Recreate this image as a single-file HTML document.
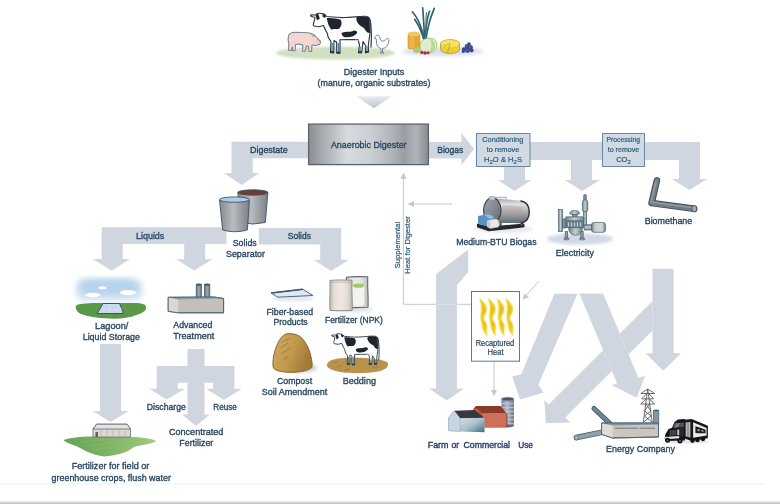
<!DOCTYPE html>
<html><head><meta charset="utf-8"><title>Anaerobic Digester Flow</title>
<style>
html,body{margin:0;padding:0;background:#fff;}
body{width:780px;height:504px;overflow:hidden;position:relative;font-family:"Liberation Sans",sans-serif;}
svg{position:absolute;left:0;top:0;display:block;}
text{font-family:"Liberation Sans",sans-serif;fill:#27455f;font-size:9.9px;text-anchor:start;stroke:#27455f;stroke-width:0.35px;}
.s{font-size:7.6px;stroke-width:0.2px;fill:#2a5a7c;stroke:#2a5a7c;}
.r{font-size:8.2px;stroke-width:0.2px;}
</style></head><body>
<svg width="780" height="504" viewBox="0 0 780 504">
<defs>
<linearGradient id="gDig" x1="0" y1="0" x2="1" y2="0">
<stop offset="0" stop-color="#8a8e94"/><stop offset="0.1" stop-color="#a3a7ac"/><stop offset="0.32" stop-color="#d7dadd"/><stop offset="0.5" stop-color="#cdd0d4"/><stop offset="0.66" stop-color="#b7bbbf"/><stop offset="0.8" stop-color="#9a9ea4"/><stop offset="0.9" stop-color="#b0b4b9"/><stop offset="1" stop-color="#878b91"/>
</linearGradient>
<linearGradient id="gTri" x1="0" y1="0" x2="0" y2="1">
<stop offset="0" stop-color="#e9edf3"/><stop offset="1" stop-color="#b9c2d1"/>
</linearGradient>
<!-- XDEFS -->
<filter id="b1" x="-20%" y="-50%" width="140%" height="200%"><feGaussianBlur stdDeviation="1"/></filter>
<filter id="b15" x="-20%" y="-60%" width="140%" height="220%"><feGaussianBlur stdDeviation="1.6"/></filter>
<filter id="b3" x="-20%" y="-30%" width="140%" height="160%"><feGaussianBlur stdDeviation="3"/></filter>
<filter id="b05" x="-10%" y="-10%" width="120%" height="120%"><feGaussianBlur stdDeviation="0.5"/></filter>
<linearGradient id="gBk" x1="0" y1="0" x2="1" y2="0"><stop offset="0" stop-color="#858a91"/><stop offset="0.45" stop-color="#b9bcc0"/><stop offset="1" stop-color="#7b8087"/></linearGradient>
<linearGradient id="gSky" x1="0" y1="0" x2="0" y2="1"><stop offset="0" stop-color="#b7d4ec"/><stop offset="0.6" stop-color="#cfe1f1"/><stop offset="1" stop-color="#eef4fa"/></linearGradient>
<linearGradient id="gCh" x1="0" y1="0" x2="1" y2="0"><stop offset="0" stop-color="#4d6775"/><stop offset="0.5" stop-color="#9fadb5"/><stop offset="1" stop-color="#4d6775"/></linearGradient>
<linearGradient id="gBag" x1="0" y1="0" x2="1" y2="0"><stop offset="0" stop-color="#b9bcb8"/><stop offset="0.22" stop-color="#eadfd7"/><stop offset="0.5" stop-color="#f3e8e1"/><stop offset="0.8" stop-color="#e2dad3"/><stop offset="1" stop-color="#b4b7b3"/></linearGradient>
<linearGradient id="gBag2" x1="0" y1="0" x2="1" y2="0"><stop offset="0" stop-color="#c9ccc9"/><stop offset="0.3" stop-color="#eceae5"/><stop offset="0.7" stop-color="#e6e4df"/><stop offset="1" stop-color="#b9bcba"/></linearGradient>
<linearGradient id="gCmp" x1="0" y1="0" x2="1" y2="0.4"><stop offset="0" stop-color="#d3ac62"/><stop offset="0.6" stop-color="#c1974b"/><stop offset="1" stop-color="#a27b38"/></linearGradient>
<linearGradient id="gFld" x1="0" y1="0" x2="1" y2="0"><stop offset="0" stop-color="#66a153"/><stop offset="0.6" stop-color="#86b968"/><stop offset="1" stop-color="#a3cc82"/></linearGradient>
<linearGradient id="gBl" x1="0" y1="0" x2="0" y2="1"><stop offset="0" stop-color="#9fa4aa"/><stop offset="0.25" stop-color="#dfe1e4"/><stop offset="0.55" stop-color="#a9adb3"/><stop offset="1" stop-color="#63686f"/></linearGradient>
<linearGradient id="gBf" x1="0" y1="0" x2="1" y2="1"><stop offset="0" stop-color="#a4a8ad"/><stop offset="0.5" stop-color="#858990"/><stop offset="1" stop-color="#63676d"/></linearGradient>
<linearGradient id="gEn" x1="0" y1="0" x2="1" y2="0"><stop offset="0" stop-color="#6f848c"/><stop offset="0.5" stop-color="#c3ced2"/><stop offset="1" stop-color="#6f848c"/></linearGradient>
<linearGradient id="gEnV" x1="0" y1="0" x2="0" y2="1"><stop offset="0" stop-color="#6f848c"/><stop offset="0.45" stop-color="#c3ced2"/><stop offset="1" stop-color="#6f848c"/></linearGradient>
<linearGradient id="gGen" x1="0" y1="0" x2="1" y2="0"><stop offset="0" stop-color="#6f8088"/><stop offset="0.25" stop-color="#c9cdcf"/><stop offset="0.75" stop-color="#d5d8da"/><stop offset="1" stop-color="#6f8088"/></linearGradient>
<linearGradient id="gSilo" x1="0" y1="0" x2="1" y2="0"><stop offset="0" stop-color="#6d7e8d"/><stop offset="0.45" stop-color="#b4c0cb"/><stop offset="1" stop-color="#5f7080"/></linearGradient>
<linearGradient id="gBarn" x1="0" y1="0" x2="1" y2="1"><stop offset="0" stop-color="#d3e0e8"/><stop offset="0.5" stop-color="#a9c0cc"/><stop offset="1" stop-color="#3f6c7f"/></linearGradient>
<!-- /XDEFS -->
</defs>

<!-- bottom lines -->
<rect x="0" y="483.5" width="766" height="1" fill="#eff0f2"/>
<rect x="0" y="501" width="780" height="1" fill="#ededed"/><rect x="0" y="502" width="780" height="1" fill="#d6d6d6"/><rect x="0" y="503" width="780" height="1" fill="#c4c4c4"/>

<!-- ARROWS -->
<g id="arrows" fill="#cfd6e0">
<!-- digestate -->
<path d="M231.5,141.8H308V158.3H252.8V173H259.5L241.8,185L224,173H231.5Z"/>
<!-- biogas -->
<path d="M429,142H461.5V133L474,149L461.5,165V158.5H429Z"/>
<!-- right bar -->
<path d="M529,142H700V179H707L689.5,190L672,179H679V160H592V180H600L582,191L565,180H571V160H529Z"/>
<!-- medium btu -->
<path d="M504,166H525V180H531.5L514.5,191L498,180H504Z"/>
<!-- liquids -->
<path d="M101.7,227.3H226.5V244H205.2V259.3H212.3L194.3,270.5L176.2,259.3H184.2V244H122.7V259H130L111.7,270.7L93,259H101.7Z"/>
<!-- solids -->
<path d="M258.8,227.9H341.2V259.7H348.8L331.1,270.9L313.5,259.7H320.2V244.6H258.8Z"/>
<!-- lagoon down -->
<path d="M100,344H121V411H128.5L110.7,422L92.7,411H100Z"/>
<!-- advanced treatment cross -->
<path d="M187.5,349H204.5V366H234.3V388.7H241.7L224,400L206,388.7H213V382.7H204.5V414.6H209.8L196,426L182,414.6H187.5V382.7H177.7V388.7H185L166.7,399.5L149.3,388.7H156.7V366H187.5Z"/>
<!-- arrow 1: BTU to farm -->
<path d="M468.2,249.5V272L456.9,285.2V388.4H464L446.9,400.4L429,388.4H436.1V273.9Z"/>
<!-- arrow C: biomethane down + branch -->
<path d="M652.5,268.7H673.6V353.2H681.1L663.2,370.7L645.7,353.2H652.5Z"/>
<path d="M652.5,301.1L548.6,404.6L544.4,400.3L545.8,423.2L570.1,422.5L565.3,417.6L652.5,330.5Z"/>
<!-- arrow A -->
<path d="M554.4,293.7H577.5L538.2,385L543.75,392.6L520.1,399.6L512.2,376.4L521.3,374.3Z"/>
<!-- arrow B -->
<path d="M579.5,293.7H603L638.3,378L645,376L636.5,397.5L612.2,385.2L617.3,383.5Z" stroke="#dde2ea" stroke-width="0.7"/>
</g>
<!-- small top arrow -->
<path d="M356,96.3H391.7L374,108.3Z" fill="url(#gTri)"/>

<!-- THIN ARROWS -->
<g id="thin" stroke="#c3c8cf" stroke-width="1" fill="none">
<path d="M403.4,177V304.3H471.5"/><path d="M436.5,304.3H456.5" stroke="#e4e8ee"/>
<path d="M452,204H412"/>
<path d="M494,361.5V392"/>
<path d="M539,281L525,297"/>
</g>
<g fill="#c3c8cf">
<path d="M403.4,172.5L400.4,179H406.4Z"/>
<path d="M407.5,204L414,201V207Z"/>
<path d="M494,396L491,390H497Z"/>
<path d="M522.5,299.5L524.5,293.5L529,297.5Z"/>
</g>

<!-- BOXES -->
<rect x="308.6" y="124.1" width="119.8" height="40.5" fill="url(#gDig)" stroke="#5d636b" stroke-width="1.3"/>
<rect x="476.5" y="133.5" width="53.5" height="33" fill="#d1d9e3" stroke="#6a88a0" stroke-width="1"/>
<rect x="602.5" y="133.5" width="42" height="33" fill="#d1d9e3" stroke="#6a88a0" stroke-width="1"/>
<rect x="471.5" y="291.5" width="48" height="69.7" fill="#fff" stroke="#5f7890" stroke-width="1"/>

<!-- ICONS -->
<g id="icons">
<!-- animals -->
<ellipse cx="335.5" cy="53" rx="59.5" ry="6.6" fill="#d0e0c0" filter="url(#b1)"/>
<g id="cow">
<path d="M326.5,16.5C332,17 338,17.8 345,17.5C353,17.2 360,16 366,16.3C369,17 370.5,19 370.3,22L370,33C369.5,38 368.5,42 368.3,46L368.5,52L365.5,52.8L365.8,46L363,41.5L362.5,46L361.5,53L358.5,52.8L359.5,45L358,39.5C352,39.8 346,39.6 340,39.8L340,53.2L336.8,53.2L336.6,42L334,40.5L333.7,53L330.5,52.6L331,41.5C329,39 327.5,36.5 327.5,34C326,31 324.5,28 323.5,25.5L319,26.8L314,26C313,25 313.2,23.5 314,22L315,17.5L310.5,16L311,14.8L315.5,15C316.5,13.5 318,13 320,13.3L323.5,13.8L325.5,15Z" fill="#fff" stroke="#2c3947" stroke-width="1.15" stroke-linejoin="round"/>
<path d="M326.8,18C331,17.6 337,18.5 340.5,19.5C342.5,23 341.5,26.5 339,28.8C336,29.8 333.5,28.3 331.5,29.8C329,27 327.5,23 326.8,18Z" fill="#20242b"/>
<path d="M356.5,17C361,16.3 366,16 369.6,18L370,32.5C368,34 366,31.5 364,28C361,26.5 358,24.5 356.5,20.5Z" fill="#20242b"/>
<path d="M341.5,33C345,31 349,32.5 353,31C355,30 356.8,31 357.3,32.8C355,36.3 350,37.8 345,37.2C343,36.7 341.5,35.2 341.5,33Z" fill="#20242b"/>
<path d="M315.5,15L318.2,13.8L319.8,18.5L317,20.5Z" fill="#20242b"/>
<path d="M322.5,13.8L326,15.8L325,18L322.5,16.5Z" fill="#20242b"/>
<path d="M370.2,20C371.8,28 371.6,38 371,47.5" fill="none" stroke="#33404f" stroke-width="1.2"/>
<path d="M338.4,43V52.6M332.2,43L332,52.3" stroke="#4f7ba3" stroke-width="1.3" fill="none"/>
<path d="M360.2,46.5L360,52.3M367,46.5L367,52" stroke="#4f7ba3" stroke-width="1.2" fill="none"/><path d="M330.5,51.8H333.7M336.8,52.5H340M358.5,52H361.5M365.5,51.8H368.5" stroke="#1f2a36" stroke-width="1.6" fill="none"/>
<path d="M355,39.5C356,41.5 358,41.5 359,40Z" fill="#f0c8c8"/>
</g>
<path d="M288.5,36C289,33.5 292,32.3 296,32.3L308,32.8C311,33 313,34 315,35.5L317.5,38.5L320.5,41.5L320,44L316,45.5L312,45L311.5,51.5L309,51.5L308.5,46.5L306.5,46L305,51.5L302.5,51.3L303,45C300,44 297.5,43.8 295.5,44.5L295,50.8L292.5,50.8L292.3,47L291,50.5L288.5,50.3L288.8,43C288,41 288,38 288.5,36Z" fill="#f4d6d1" stroke="#7b8698" stroke-width="1.1" stroke-linejoin="round"/>
<path d="M311.5,34L313,36.8L315.3,36M316.5,41.5L317.5,42" stroke="#8791a3" stroke-width="0.7" fill="none"/>
<path d="M376,36C377,34.5 379,34.8 379.5,36.5L380.5,40C382,41.5 384,41.5 385.5,40L387.5,38L389,39.5C389,43 387.5,46.5 384.5,48L382.5,48.5L382.5,52.5L384,53L380,53L381.3,52.3L381,48.5C378.5,48 376.8,46 376.5,43L376.3,39L374.5,38.3Z" fill="#fff" stroke="#7b8698" stroke-width="1" stroke-linejoin="round"/>
<!-- vegetables -->
<ellipse cx="443" cy="51.5" rx="40" ry="5" fill="#dde1f1" filter="url(#b15)"/>
<rect x="407.6" y="33.5" width="12.8" height="15.8" rx="2" fill="#e4a436"/>
<rect x="409.5" y="35" width="5" height="13" fill="#eeb84a" opacity="0.8"/>
<ellipse cx="414" cy="33.8" rx="6.3" ry="2.3" fill="#f3c860"/>
<g fill="none" stroke="#2e6470" stroke-width="1.7" stroke-linecap="round">
<path d="M424.5,41C423,30 418,18 412.5,12"/>
<path d="M424.5,41C424.3,28 423.2,15 422.7,7.8"/>
<path d="M425.2,41C425.5,30 427,18 429.5,11.2"/>
<path d="M425.8,41C427,30 431,16 434.3,8.3"/>
<path d="M424,40C421.5,31 418.5,25 414.8,19.5"/>
<path d="M425.5,38C426.5,28 425.5,19 426.5,12.5" stroke="#3f7a80" stroke-width="1.1"/>
</g>
<path d="M421,42C423,38.5 430,37 434.5,39.5C438,42 437.5,48 434,51.5C430,54 423.5,53.5 421,50C419.5,47.5 419.8,44.5 421,42Z" fill="#ddecc9" stroke="#9ac76a" stroke-width="0.9"/>
<path d="M430,39C434,40 436,44 434.5,49C433.5,51 431,52.5 429,52.5C432,49 432.5,43 430,39Z" fill="#b7d98b"/>
<ellipse cx="416.6" cy="50" rx="3.6" ry="3" fill="#a9c97b"/>
<circle cx="421.8" cy="52.4" r="1.7" fill="#b8323a"/><circle cx="425" cy="53" r="1.7" fill="#a82a33"/><circle cx="428" cy="52.8" r="1.5" fill="#b8323a"/>
<path d="M440.6,43.5A9.5,3.8 0 0 1 459.6,43.5V49.5A9.5,4 0 0 1 440.6,49.5Z" fill="#ecd02f" stroke="#a8962a" stroke-width="0.8"/>
<ellipse cx="450.1" cy="43.5" rx="9.2" ry="3.5" fill="#f6e25e"/>
<path d="M444,46L450,43.5L447.5,53" fill="none" stroke="#a8962a" stroke-width="0.6"/>
<g fill="#3b4a8e"><circle cx="464" cy="49.5" r="2.3"/><circle cx="467" cy="46.5" r="2.4"/><circle cx="470.5" cy="47.5" r="2.4"/><circle cx="467.5" cy="50.5" r="2.4"/><circle cx="471.5" cy="50.3" r="2.1"/><circle cx="469" cy="44" r="1.8"/><circle cx="463.3" cy="51.5" r="1.6"/></g>
<g fill="#5a69ad"><circle cx="466.5" cy="46" r="0.9"/><circle cx="470" cy="47" r="0.9"/><circle cx="467" cy="50" r="0.9"/></g>
<!-- buckets -->
<path d="M237.8,192.5L240.5,222.5Q252.9,225.5 265.3,222.5L267.9,192.5Z" fill="url(#gBk)" stroke="#3d5565" stroke-width="0.9"/>
<ellipse cx="252.9" cy="192.5" rx="15" ry="2.7" fill="#6e3b30" stroke="#3d5565" stroke-width="0.9"/>
<path d="M219.5,199.6L222.6,230Q235,233.5 247.4,230L249.4,199.6Z" fill="url(#gBk)" stroke="#3d5565" stroke-width="0.9"/>
<ellipse cx="234.4" cy="199.6" rx="14.9" ry="2.7" fill="#a9d0e2" stroke="#3d5565" stroke-width="0.9"/>
<!-- lagoon -->
<rect x="76" y="279" width="66" height="24" rx="9" fill="url(#gSky)" filter="url(#b3)"/>
<rect x="82" y="281" width="54" height="14" rx="6" fill="#b3d2ea" filter="url(#b3)" opacity="0.9"/>
<ellipse cx="102.3" cy="287.8" rx="4" ry="1.5" fill="#fff" filter="url(#b05)"/>
<ellipse cx="92.8" cy="295" rx="7.5" ry="2.2" fill="#fff" filter="url(#b05)"/>
<ellipse cx="128" cy="292.6" rx="8" ry="2.7" fill="#fff" filter="url(#b05)"/>
<path d="M76,305.5C80,303 90,303.2 100,303L135,303C141,303 146,304 146,307C146.5,311 142,313.5 136,315C130,318 119,319 108,318.6C97,318.2 88,316.5 81,314C76.5,312 75,308 76,305.5Z" fill="#5a994a" filter="url(#b05)"/>
<path d="M103,303.5H119.6L123.5,313.5H97.2Z" fill="#cad8ec" stroke="#2f5868" stroke-width="1"/>
<path d="M110,304L109,313M104,309H122" stroke="#dbe5f3" stroke-width="0.6" fill="none"/>
<!-- advanced treatment -->
<rect x="195.8" y="284.5" width="6.2" height="14" fill="url(#gCh)"/>
<rect x="204" y="284.5" width="6.2" height="14" fill="url(#gCh)"/>
<ellipse cx="198.9" cy="284.6" rx="3.1" ry="1.1" fill="#3d5563"/>
<ellipse cx="207.1" cy="284.6" rx="3.1" ry="1.1" fill="#3d5563"/>
<path d="M168.2,297.3L213.8,297L223.6,298.5V312.8H178.2L168.2,311.3Z" fill="#c4bfba" stroke="#4a6470" stroke-width="0.9" stroke-linejoin="round"/>
<path d="M168.2,297.3L178.2,299.4V312.8L168.2,311.3Z" fill="#dbd8d4"/>
<path d="M168.2,297.3L213.8,297L223.6,298.5L178.2,299.4Z" fill="#8f9da2"/>
<path d="M168.2,297.3L213.8,297L223.6,298.5V312.8H178.2L168.2,311.3Z" fill="none" stroke="#4a6470" stroke-width="0.9" stroke-linejoin="round"/>
<!-- fiber board -->
<ellipse cx="293" cy="298.5" rx="21" ry="3" fill="#e3e7f0" filter="url(#b15)"/>
<path d="M271.2,293L302.8,289.3L312.8,295.5L277.8,297.2Z" fill="#e1e8f2" stroke="#50667f" stroke-width="1" stroke-linejoin="round"/>
<path d="M271.2,293L302.8,289.3" stroke="#3f556e" stroke-width="1.4" fill="none"/>
<!-- fertilizer bags -->
<ellipse cx="352" cy="309.5" rx="21" ry="2.6" fill="#dcdfe8" filter="url(#b15)"/>
<path d="M346.4,277.2C353,276.4 361,276.6 367.8,276.8C367.2,286 368.6,297 368,307.2C361,307.8 353,307.6 346.6,307.4C345.8,297 346.6,288 346.4,277.2Z" fill="url(#gBag2)" stroke="#5f6a6d" stroke-width="1.1" stroke-linejoin="round"/>
<path d="M352.6,285.6C352.6,287.6 364.4,287.6 364.4,285.6L364.2,304.5C364.2,306 352.8,306 352.8,304.5Z" fill="#f3f3ef"/>
<ellipse cx="358.5" cy="285.6" rx="5.9" ry="2.2" fill="#9ecb68"/>
<path d="M330,280.4C337,279.8 345,280 352,280.2C351.4,290 352.6,300 352.2,310.4C345,310.9 337,310.8 330,310.5C329.4,300 330.4,290 330,280.4Z" fill="url(#gBag)" stroke="#8a9090" stroke-width="1" stroke-linejoin="round"/>
<path d="M330.3,282.4C337,281.9 345,282 351.8,282.3" fill="none" stroke="#a9adab" stroke-width="0.8"/>
<!-- compost -->
<ellipse cx="300" cy="368" rx="17" ry="5" fill="#cfd4e3" filter="url(#b15)"/>
<path d="M273,366C272.5,360 274,352 277,345C279,340 282,335.5 286,334C290,333 296,333.8 300,336.5C305,340.5 309,348 310.8,356C312,361 312.6,365 311.8,367.5C309,370.5 300,372.3 291,372.3C283,372.3 276,371 273.8,368.5Z" fill="url(#gCmp)" stroke="#86672c" stroke-width="1"/>
<path d="M281,343L287,339M280,348L288,343M281,354L290,348M283,360L289,356M286,341L290,338" stroke="#9a7636" stroke-width="0.7" fill="none"/>
<!-- bedding -->
<path d="M327,364C329,359.5 338,358 350,357.8C364,357.5 380,358.5 387,362C390,365 387,369.5 378,371.5C368,373.5 350,373.8 340,372C331,370.5 326,367.5 327,364Z" fill="#b9924b"/>
<path d="M333,363L338,361.5M336,367L342,365.5M372,368L379,366.5M370,364L376,362.5M345,370L350,369" stroke="#96743a" stroke-width="0.7" fill="none"/>
<use href="#cow" transform="translate(89.4,323.4) scale(0.78)"/>
<!-- farm field -->
<path d="M63.5,440C70,437.5 82,436.3 95,436.5L130,437C140,437 150,438 156.5,441C152,444 140,445 134,447C128,452 118,455.5 104,456.5C92,455 84,450 76,446C70,444 65,442 63.5,440Z" fill="url(#gFld)" filter="url(#b05)"/>
<path d="M80,442L112,439M86,446L124,441M94,450L132,443M104,454L136,445" stroke="#8fbd72" stroke-width="0.6" fill="none" opacity="0.8"/>
<path d="M93,429L96.5,424.2H127L130.5,429V437H93Z" fill="#d9d8d4" stroke="#666d77" stroke-width="0.8" stroke-linejoin="round"/>
<path d="M93,429L96.5,424.2H127L130.5,429Z" fill="#e4e3e0" stroke="#5d646e" stroke-width="0.8" stroke-linejoin="round"/>
<path d="M101,429.5V436.5M107,429.5V436.5M113,429.5V436.5M119,429.5V436.5M125,429.5V436.5" stroke="#b3b1ac" stroke-width="0.7"/>
<rect x="95.5" y="432" width="2.4" height="5" fill="#6a5a50"/>
<!-- boiler -->
<ellipse cx="503" cy="229" rx="30" ry="4" fill="#e6e9f0" filter="url(#b15)"/>
<path d="M476.9,227.3L488.7,231.3L524.6,227.3L524.3,223.6L488.7,226.5L477,223.5Z" fill="#24272c"/>
<rect x="499.5" y="221" width="2.2" height="5.5" fill="#6b4a2b"/><rect x="520.5" y="219.5" width="2.6" height="6" fill="#6b4a2b"/>
<path d="M492.3,198C498,198.5 512,199.8 520.5,200.8C526.5,202 529.3,206.5 529.3,212C529.3,217.5 526.5,222 521,223.2C512,223 498,222.8 492.3,222.7Z" fill="url(#gBl)"/>
<path d="M520.5,200.8C526.5,202 529.3,206.5 529.3,212C529.3,217.5 526.5,222 521,223.2" fill="none" stroke="#2b2f35" stroke-width="1.4"/>
<path d="M503,205C510,205.3 516,206 522,207L522.5,214C516,213.5 509,213 503,213Z" fill="#b79f8e" opacity="0.35"/>
<ellipse cx="492.3" cy="210.3" rx="8.8" ry="12.4" fill="url(#gBf)" stroke="#3d4248" stroke-width="1.2"/>
<rect x="489.2" y="196.6" width="5.8" height="3.4" rx="0.8" fill="#c9ccd1" stroke="#7a7f86" stroke-width="0.5"/>
<path d="M495,197.3H506.3V201" fill="none" stroke="#b8bcc2" stroke-width="1.2"/>
<path d="M478,216L486,214.4C489,214 492.5,215 493.8,217L494,224.5L486.5,226.3L478,223.5Z" fill="#5a93c2"/>
<path d="M484,214.8C488,213.8 492.5,215 493.8,217.5L490,219Z" fill="#8cc2e8"/>
<path d="M487.2,220.5L495.5,219L498.6,220.3V227L490.5,228.5L487.2,226.8Z" fill="#e6e8ec" stroke="#b8bcc4" stroke-width="0.4"/>
<path d="M487.2,220.5L490.5,221.8V228.5L487.2,226.8Z" fill="#c9ccd3"/>
<!-- engine -->
<ellipse cx="580" cy="239" rx="33" ry="5.6" fill="#d3d8e9" filter="url(#b15)"/>
<g stroke="#4a5f6a" stroke-width="0.7">
<rect x="558.6" y="209.6" width="3.8" height="22" fill="url(#gEn)"/>
<rect x="562.4" y="219" width="3" height="9" fill="#7c9098"/>
<rect x="583.7" y="194.5" width="2.6" height="7" rx="1" fill="#7c9098"/>
<rect x="582.4" y="200" width="5.4" height="11.8" rx="2.2" fill="url(#gEn)"/>
<rect x="583.6" y="211.5" width="3" height="15" fill="url(#gEn)"/>
<rect x="572.5" y="214" width="4.6" height="3.4" fill="#7c9098"/>
<path d="M569.7,213.5C569.7,211.5 572,210.4 574.6,210.4C577.3,210.4 579.5,211.5 579.5,213.5C579.5,215 569.7,215 569.7,213.5Z" fill="url(#gEn)"/>
<rect x="565" y="216.8" width="19" height="4.2" rx="1.8" fill="url(#gEn)"/>
<rect x="566" y="221" width="17.5" height="6.7" fill="#6f848c"/>
<path d="M568.6,227.7H582.4C582.4,232.5 579.5,235.2 575.5,235.2C571.5,235.2 568.6,232.5 568.6,227.7Z" fill="url(#gEn)"/>
<rect x="565.2" y="231.5" width="2.4" height="7" fill="#8ea0a7"/><rect x="564" y="238" width="5" height="1.8" rx="0.8" fill="#8ea0a7"/>
<rect x="580.8" y="231.5" width="2.4" height="7" fill="#8ea0a7"/><rect x="579.6" y="238" width="5" height="1.8" rx="0.8" fill="#8ea0a7"/>
<rect x="584.1" y="224.8" width="8" height="5.2" fill="url(#gEnV)"/>
<rect x="591.6" y="222.5" width="13.8" height="9.8" rx="2.2" fill="url(#gGen)"/>
</g>
<path d="M568.5,222.5V226.5M571.5,222.5V226.5M574.5,222.5V226.5M577.5,222.5V226.5M580.5,222.5V226.5" stroke="#d7dee1" stroke-width="0.9"/>
<!-- biomethane pipe -->
<path d="M656.9,180.4L651.6,203L694.1,208.8" fill="none" stroke="#3f4850" stroke-width="6.6" stroke-linejoin="round" stroke-linecap="round"/>
<path d="M656.9,180.4L651.6,203L694.1,208.8" fill="none" stroke="#727c86" stroke-width="4.8" stroke-linejoin="round" stroke-linecap="round"/>
<path d="M656.2,181L651,202.2L693.5,207.8" fill="none" stroke="#97a1ab" stroke-width="1.6" stroke-linejoin="round" stroke-linecap="round" opacity="0.8"/>
<ellipse cx="694.3" cy="208.8" rx="2.6" ry="3.3" fill="#9cabb7" stroke="#3f4850" stroke-width="0.9"/>
<!-- flames -->
<g id="fl">
<path d="M479.8,298.8C483.8,302 487.2,306 486.6,310C486,314 483.6,316 483.8,318.5C484,321.5 487.2,323.5 486.9,327C486.6,330.5 486,333 487,335.6C484.6,333.2 482.8,330 482.4,327C482,324 481.3,321 480.9,318.5C480.5,315.5 481.3,312.5 481.4,309.5C481.5,305.5 480.8,302 479.8,298.8Z" fill="#fbf0a8" stroke="#fbf0a8" stroke-width="1.8" stroke-linejoin="round" filter="url(#b05)"/>
<path d="M479.8,298.8C483.8,302 487.2,306 486.6,310C486,314 483.6,316 483.8,318.5C484,321.5 487.2,323.5 486.9,327C486.6,330.5 486,333 487,335.6C484.6,333.2 482.8,330 482.4,327C482,324 481.3,321 480.9,318.5C480.5,315.5 481.3,312.5 481.4,309.5C481.5,305.5 480.8,302 479.8,298.8Z" fill="#f0cf2c" filter="url(#b05)"/>
<path d="M482.5,304C485,306.5 485.5,309 484.8,311.5C484,313.5 482.8,315 482.6,317C482.2,314 482.6,311 482.8,308.5ZM484,321.5C485.8,323.5 485.8,326 485.3,329C484,326.5 483.3,324 483.2,321.5Z" fill="#e0b81c" filter="url(#b05)" opacity="0.8"/>
</g>
<use href="#fl" x="8.7"/><use href="#fl" x="17.4"/><use href="#fl" x="26.1"/>
<!-- farm buildings -->
<rect x="501.5" y="398.8" width="12.4" height="27" fill="url(#gSilo)"/>
<path d="M501.5,403.5H513.9M501.5,407.5H513.9M501.5,411.5H513.9M501.5,415.5H513.9M501.5,419.5H513.9M501.5,423.5H513.9" stroke="#cfc4d4" stroke-width="1.5" opacity="0.75"/>
<ellipse cx="507.7" cy="426" rx="6.2" ry="1.5" fill="#5d6d7b"/>
<ellipse cx="507.7" cy="399" rx="6.2" ry="1.8" fill="#46566a" stroke="#8797a5" stroke-width="0.6"/>
<path d="M483,413.8L506.2,413V427.7L484.6,427.7Z" fill="#cf6f59"/>
<path d="M506.2,413L507.5,414V426.5L506.2,427.7Z" fill="#9c4534"/>
<path d="M473,409.2L476,406H500.8L506.2,413L483,413.8Z" fill="#8b3a2a"/>
<path d="M473,409.2L476.3,408L483,413.8V420L479,416Z" fill="#b85a46"/>
<path d="M454.2,410.8L474.6,410L484.6,417.7L460.3,418.5Z" fill="#38383d"/>
<path d="M460.3,418.5L484.6,417.7V432.3L460.3,431.5Z" fill="url(#gBarn)"/>
<path d="M448.5,417.7L454.2,410.8L460.3,418.5V431.5L448.5,430.8Z" fill="#c6d6e0" stroke="#7f929e" stroke-width="0.5"/>
<!-- energy company -->
<path d="M576.5,437.6L602,432.2" fill="none" stroke="#4a616c" stroke-width="5.6" stroke-linecap="round"/>
<path d="M576.5,437.6L602,432.2" fill="none" stroke="#8fa2ab" stroke-width="4" stroke-linecap="round"/>
<ellipse cx="576.3" cy="437.6" rx="1.8" ry="2.5" fill="#aebcc4" stroke="#4a616c" stroke-width="0.6" transform="rotate(-12 576.3 437.6)"/>
<path d="M594,408.5L610,423.6" fill="none" stroke="#3d5560" stroke-width="5" stroke-linecap="round"/>
<path d="M594,408.5L610,423.6" fill="none" stroke="#6f8792" stroke-width="3.4" stroke-linecap="round"/>
<g fill="none" stroke="#5c5d60" stroke-width="0.9">
<path d="M647.7,389L643.3,422.5M647.7,389L652.2,422.5M640.8,393.5H654.6M641.8,398.8H653.6M640.8,404H654.6M647.7,389L640.8,393.5M647.7,389L654.6,393.5M646.8,393.5L641.8,398.8M648.6,393.5L653.6,398.8M646.2,398.8L640.8,404M649.2,398.8L654.6,404"/>
<path d="M645.7,404L651,411L644.3,416L652,422M649.7,404L644.6,411L651.2,416L643.6,422"/>
</g>
<rect x="653.4" y="410.5" width="5.4" height="13" fill="#8199a5" stroke="#456575" stroke-width="0.7"/>
<ellipse cx="656.1" cy="410.5" rx="2.7" ry="0.9" fill="#4f6875"/>
<path d="M601.6,423H658.5V437L612.7,438L601.6,434.4Z" fill="#cac5bd" stroke="#456575" stroke-width="0.9" stroke-linejoin="round"/>
<path d="M601.6,423L612.7,425.5V438L601.6,434.4Z" fill="#dfdcd7"/>
<path d="M601.6,423H658.5V424.6L612.7,425.5Z" fill="#7d929c"/>
<path d="M601.6,423H658.5V437L612.7,438L601.6,434.4Z" fill="none" stroke="#456575" stroke-width="0.9" stroke-linejoin="round"/>
<path d="M614.8,428.2H637.8M639.6,428.2H655" stroke="#8d8e90" stroke-width="1.6"/>
<!-- truck -->
<ellipse cx="687" cy="442" rx="22" ry="1.6" fill="#e6e7ea" filter="url(#b05)"/>
<path d="M684.2,419.8L691.6,418.9L707.9,425.8V438.3L691.6,441L684.2,438.6Z" fill="#18181a"/>
<path d="M693.1,422.3L706.6,427.9V435.6L693.1,437.8Z" fill="#e9eaec"/>
<path d="M695.4,426.2Q700,427.3 705.6,429.8V433.2Q700,433.5 695.4,433Z" fill="#1d1d20"/>
<path d="M697.6,428.9L699.6,429.4V431.2L697.6,431.1ZM701.5,430L703.5,430.6V431.7L701.5,431.5Z" fill="#b9bbbf"/>
<path d="M685.7,422.6L690.3,422V437.4L685.7,436.2Z" fill="#d9dbde"/>
<path d="M687.2,422.5V436.8M688.8,422.3V437" stroke="#18181a" stroke-width="0.5"/>
<path d="M677.8,419.6L685,419V440.5L666,441L664.6,438.5L665.5,434L668.6,429L672,427.8L674.4,422.2Z" fill="#151517"/>
<path d="M675,423L684,422.4V427L672.8,427.8Z" fill="#505156"/>
<path d="M676,423.4L680,423.1L678,427.3L674.3,427.6Z" fill="#7b7d82"/>
<path d="M669.3,430.3L676.5,429.6V435.3L669,435.8Z" fill="#2f3034"/>
<path d="M670.6,430.3V435.6M672.2,430.2V435.5M673.8,430V435.4M675.3,429.9V435.3" stroke="#6a6c70" stroke-width="0.5"/>
<path d="M664.8,436.9L679.2,436V438.3L665.4,439.2Z" fill="#e4e5e8"/>
<path d="M677.3,429.6L679.2,429.4V435L677.3,435.2Z" fill="#d0d2d5"/>
<path d="M680.2,428L683.5,427.7V436L680.2,436.2Z" fill="#2a2b2e"/>
<circle cx="667.6" cy="440.3" r="2.5" fill="#111"/><circle cx="667.6" cy="440.3" r="0.9" fill="#777"/>
<circle cx="680" cy="440.8" r="2.6" fill="#111"/><circle cx="680" cy="440.8" r="0.9" fill="#777"/>
<circle cx="692.5" cy="440.6" r="2.3" fill="#111"/><circle cx="697.5" cy="440" r="2.3" fill="#111"/><circle cx="703" cy="439.2" r="2.1" fill="#111"/>
</g><!-- /icons -->

<!-- TEXT -->
<g id="labels" opacity="0.998">
<text x="343.8" y="74.7" textLength="60.4" lengthAdjust="spacingAndGlyphs">Digester Inputs</text>
<text x="317.6" y="85.8" textLength="112.8" lengthAdjust="spacingAndGlyphs">(manure, organic substrates)</text>
<text x="330.9" y="147.5" textLength="75.7" lengthAdjust="spacingAndGlyphs">Anaerobic Digester</text>
<text x="250.0" y="153" textLength="37.7" lengthAdjust="spacingAndGlyphs">Digestate</text>
<text x="437.3" y="153" textLength="26" lengthAdjust="spacingAndGlyphs">Biogas</text>
<text x="456.2" y="244.5" textLength="80.3" lengthAdjust="spacingAndGlyphs">Medium-BTU Biogas</text>
<text x="555.8" y="255.7" textLength="38.2" lengthAdjust="spacingAndGlyphs">Electricity</text>
<text x="644.7" y="223.7" textLength="47.6" lengthAdjust="spacingAndGlyphs">Biomethane</text>
<text x="136.0" y="239" textLength="28.3" lengthAdjust="spacingAndGlyphs">Liquids</text>
<text x="287.7" y="239" textLength="23.3" lengthAdjust="spacingAndGlyphs">Solids</text>
<text x="232.7" y="246" textLength="24" lengthAdjust="spacingAndGlyphs">Solids</text>
<text x="226.0" y="257" textLength="39" lengthAdjust="spacingAndGlyphs">Separator</text>
<text x="95.1" y="329" textLength="33.3" lengthAdjust="spacingAndGlyphs">Lagoon/</text>
<text x="82.7" y="340" textLength="57.3" lengthAdjust="spacingAndGlyphs">Liquid Storage</text>
<text x="173.3" y="328" textLength="39" lengthAdjust="spacingAndGlyphs">Advanced</text>
<text x="173.3" y="339" textLength="41" lengthAdjust="spacingAndGlyphs">Treatment</text>
<text x="266.5" y="314.8" textLength="46.6" lengthAdjust="spacingAndGlyphs">Fiber-based</text>
<text x="273.4" y="325" textLength="34.3" lengthAdjust="spacingAndGlyphs">Products</text>
<text x="325.0" y="323.3" textLength="57.8" lengthAdjust="spacingAndGlyphs">Fertilizer (NPK)</text>
<text x="276.9" y="384.2" textLength="35.2" lengthAdjust="spacingAndGlyphs">Compost</text>
<text x="261.7" y="395.4" textLength="65.6" lengthAdjust="spacingAndGlyphs">Soil Amendment</text>
<text x="342.7" y="384" textLength="33.3" lengthAdjust="spacingAndGlyphs">Bedding</text>
<text x="146.7" y="410" textLength="39.3" lengthAdjust="spacingAndGlyphs">Discharge</text>
<text x="213.3" y="410" textLength="23.4" lengthAdjust="spacingAndGlyphs">Reuse</text>
<text x="169.0" y="435" textLength="54.3" lengthAdjust="spacingAndGlyphs">Concentrated</text>
<text x="179.3" y="446" textLength="34" lengthAdjust="spacingAndGlyphs">Fertilizer</text>
<text x="71.7" y="469" textLength="77.6" lengthAdjust="spacingAndGlyphs">Fertilizer for field or</text>
<text x="51.6" y="481" textLength="119.3" lengthAdjust="spacingAndGlyphs">greenhouse crops, flush water</text>
<text x="606.0" y="452" textLength="69" lengthAdjust="spacingAndGlyphs">Energy Company</text>
<text class="s" x="482.3" y="142" textLength="41" lengthAdjust="spacingAndGlyphs">Conditioning</text>
<text class="s" x="486.7" y="152" textLength="32.6" lengthAdjust="spacingAndGlyphs">to remove</text>
<text class="s" x="606.6" y="142" textLength="33.3" lengthAdjust="spacingAndGlyphs">Processing</text>
<text class="s" x="607.7" y="152" textLength="31.6" lengthAdjust="spacingAndGlyphs">to remove</text>
<text class="r" x="475.7" y="346" textLength="38.6" lengthAdjust="spacingAndGlyphs">Recaptured</text>
<text class="r" x="487.5" y="354.5" textLength="16" lengthAdjust="spacingAndGlyphs">Heat</text>
<text class="s" x="503" y="162" style="text-anchor:middle">H<tspan font-size="6" dy="1.5">2</tspan><tspan dy="-1.5">O &amp; H</tspan><tspan font-size="6" dy="1.5">2</tspan><tspan dy="-1.5">S</tspan></text>
<text class="s" x="623.5" y="162" style="text-anchor:middle">CO<tspan font-size="6" dy="1.5">2</tspan></text>
<g style="font-size:8.6px;fill:#22376b;stroke:#22376b;stroke-width:0.3px"><text x="427.7" y="447.6" textLength="20.8" lengthAdjust="spacingAndGlyphs" style="font-size:8.6px;fill:#22376b;stroke:#22376b">Farm</text><text x="451.5" y="447.6" textLength="7.7" lengthAdjust="spacingAndGlyphs" style="font-size:8.6px;fill:#22376b;stroke:#22376b">or</text><text x="463.5" y="447.6" textLength="46.5" lengthAdjust="spacingAndGlyphs" style="font-size:8.6px;fill:#22376b;stroke:#22376b">Commercial</text><text x="518.2" y="447.6" textLength="14.8" lengthAdjust="spacingAndGlyphs" style="font-size:8.6px;fill:#22376b;stroke:#22376b">Use</text></g>
<text class="s" style="text-anchor:middle" transform="translate(399.5,245) rotate(-90)">Supplemental</text>
<text class="s" style="text-anchor:middle" transform="translate(409.5,245) rotate(-90)">Heat for Digester</text>
</g>
</svg>
</body></html>
